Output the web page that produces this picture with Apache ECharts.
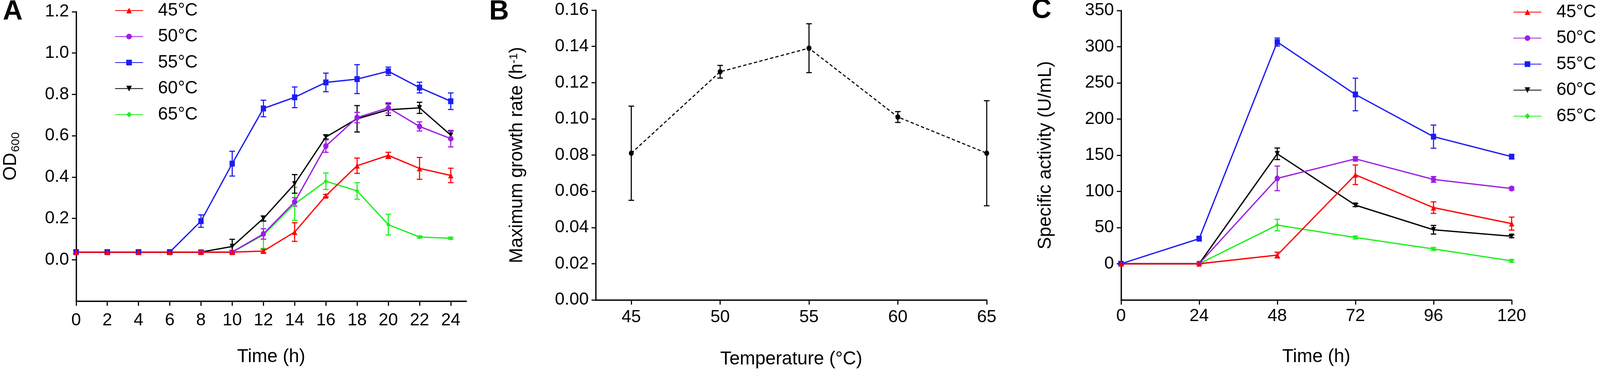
<!DOCTYPE html>
<html>
<head>
<meta charset="utf-8">
<script src="https://cdn.jsdelivr.net/npm/echarts@6/dist/echarts.min.js"></script>
<style>
html, body { margin: 0; padding: 0; background: #fff; overflow: hidden; }
#main { width: 100vw; height: 100vh; }
</style>
</head>
<body>
<div id="main"></div>
<script>
// ---- panel A : OD600 vs time ----
var hoursA = [0, 2, 4, 6, 8, 10, 12, 14, 16, 18, 20, 22, 24];
var od45 = [0.037, 0.037, 0.037, 0.037, 0.037, 0.037, 0.042, 0.134, 0.31, 0.455, 0.505, 0.442, 0.408];
var od45Err = [0.008, 0.008, 0.008, 0.008, 0.008, 0.008, 0.008, 0.045, 0.006, 0.037, 0.015, 0.053, 0.035];
var od50 = [0.037, 0.037, 0.037, 0.037, 0.037, 0.037, 0.125, 0.28, 0.55, 0.688, 0.735, 0.645, 0.586];
var od50Err = [0.008, 0.008, 0.008, 0.008, 0.008, 0.008, 0.025, 0.02, 0.03, 0.025, 0.025, 0.022, 0.04];
var od55 = [0.037, 0.037, 0.037, 0.037, 0.187, 0.465, 0.732, 0.786, 0.858, 0.874, 0.912, 0.833, 0.767];
var od55Err = [0.01, 0.01, 0.01, 0.01, 0.03, 0.06, 0.04, 0.05, 0.045, 0.07, 0.02, 0.026, 0.04];
var od60 = [0.037, 0.037, 0.037, 0.037, 0.037, 0.064, 0.2, 0.367, 0.594, 0.682, 0.726, 0.735, 0.603];
var od60Err = [0.008, 0.008, 0.008, 0.008, 0.008, 0.035, 0.012, 0.045, 0.01, 0.064, 0.028, 0.027, 0.02];
var od65 = [0.037, 0.037, 0.037, 0.037, 0.037, 0.037, 0.12, 0.27, 0.38, 0.333, 0.17, 0.11, 0.104];
var od65Err = [0.008, 0.008, 0.008, 0.008, 0.008, 0.008, 0.065, 0.08, 0.04, 0.04, 0.05, 0.005, 0.005];
var ticksAX = [0, 2, 4, 6, 8, 10, 12, 14, 16, 18, 20, 22, 24];
var ticksAY = [0, 0.2, 0.4, 0.6, 0.8, 1.0, 1.2];

// ---- panel B : max growth rate vs temperature ----
var tempsB = [45, 50, 55, 60, 65];
var rateB = [0.081, 0.126, 0.139, 0.101, 0.081];
var rateErrB = [0.026, 0.0035, 0.0135, 0.003, 0.029];
var ticksBX = [45, 50, 55, 60, 65];

// ---- panel C : specific activity vs time ----
var hoursC = [0, 24, 48, 72, 96, 120];
var act45 = [0, 0, 12, 123, 77.6, 55.5];
var act45Err = [1, 1, 4, 13.5, 8, 9];
var act50 = [0, 0, 118, 145, 116.6, 104];
var act50Err = [1, 1, 17, 3, 4, 2];
var act55 = [0, 34.7, 306.5, 234, 175.7, 148];
var act55Err = [1, 2, 5.5, 22.5, 16, 3];
var act60 = [0, 0, 152, 81, 47, 38];
var act60Err = [1, 1, 8, 2, 6, 2];
var act65 = [0, 0, 53.5, 36.3, 20.5, 4];
var act65Err = [1, 1, 8, 2, 2, 2];
var ticksCY = [0, 50, 100, 150, 200, 250, 300, 350];

var tempNames = ['45°C', '50°C', '55°C', '60°C', '65°C'];
var colors = { '45°C': '#ff0000', '50°C': '#9b1ee3', '55°C': '#1c1cf5', '60°C': '#000000', '65°C': '#1ef01e' };
var symbols = { '45°C': ['triangle', 15, 0], '50°C': ['circle', 15, 0], '55°C': ['rect', 15, 0], '60°C': ['triangle', 14, 180], '65°C': ['diamond', 12, 0] };

var FONT = 'Liberation Sans, Arial, sans-serif';

// layout measured on the 4563 x 959 picture, stretched to fill the real viewport
var SX = (window.innerWidth || 4563) / 4563;
var SY = (window.innerHeight || 959) / 959;
var SF = Math.sqrt(SX * SY);
function hx(v) { return v * SX; }
function vy(v) { return v * SY; }
function fs(v) { return v * SF; }

function pairs(xs, ys) {
    return xs.map(function (x, i) { return [x, ys[i]]; });
}
function errRows(xs, ys, es) {
    var out = [];
    xs.forEach(function (x, i) {
        if (es[i] > 0) out.push([x, ys[i] - es[i], ys[i] + es[i]]);
    });
    return out;
}
function errRender(params, api) {
    var x = api.value(0);
    var top = api.coord([x, api.value(2)]);
    var bot = api.coord([x, api.value(1)]);
    var w = hx(8);
    var st = { stroke: api.visual('color'), lineWidth: fs(3) };
    return {
        type: 'group',
        children: [
            { type: 'line', shape: { x1: top[0], y1: top[1], x2: bot[0], y2: bot[1] }, style: st },
            { type: 'line', shape: { x1: top[0] - w, y1: top[1], x2: top[0] + w, y2: top[1] }, style: st },
            { type: 'line', shape: { x1: bot[0] - w, y1: bot[1], x2: bot[0] + w, y2: bot[1] }, style: st }
        ]
    };
}

function lineSeries(name, xs, ys, idx) {
    var s = symbols[name];
    return {
        name: name, type: 'line', xAxisIndex: idx, yAxisIndex: idx,
        data: pairs(xs, ys),
        symbol: s[0], symbolSize: [hx(s[1]), vy(s[1])], symbolRotate: s[2],
        showAllSymbol: true,
        lineStyle: { color: colors[name], width: fs(3.5) },
        itemStyle: { color: colors[name] },
        emphasis: { disabled: true },
        animation: false, z: 3
    };
}
function errSeries(name, xs, ys, es, idx) {
    return {
        name: name + ' err', type: 'custom', xAxisIndex: idx, yAxisIndex: idx,
        renderItem: errRender,
        itemStyle: { color: colors[name] },
        encode: { x: 0, y: [1, 2] },
        data: errRows(xs, ys, es),
        animation: false, z: 3
    };
}

var axisLine = { show: true, onZero: false, lineStyle: { color: '#000', width: fs(3.5) } };
var tickX = { show: true, length: vy(12), lineStyle: { color: '#000', width: fs(3) } };
var tickY = { show: true, length: hx(12), lineStyle: { color: '#000', width: fs(3) } };
var tickFont = { color: '#000', fontSize: fs(47), fontFamily: FONT };
var nameFont = { color: '#000', fontSize: fs(50), fontFamily: FONT };
var letterFont = { fontSize: fs(74), fontWeight: 'bold', fontFamily: FONT, color: '#000' };

var seriesA = [['65°C', od65, od65Err], ['60°C', od60, od60Err], ['50°C', od50, od50Err], ['55°C', od55, od55Err], ['45°C', od45, od45Err]];
var seriesC = [['65°C', act65, act65Err], ['60°C', act60, act60Err], ['50°C', act50, act50Err], ['55°C', act55, act55Err], ['45°C', act45, act45Err]];

var series = [];
seriesA.forEach(function (s) {
    series.push(errSeries(s[0], hoursA, s[1], s[2], 0));
    series.push(lineSeries(s[0], hoursA, s[1], 0));
});
series.push({
    name: 'rate', type: 'custom', xAxisIndex: 1, yAxisIndex: 1,
    renderItem: errRender, itemStyle: { color: '#000' },
    encode: { x: 0, y: [1, 2] },
    data: errRows(tempsB, rateB, rateErrB), animation: false
});
series.push({
    name: 'Maximum growth rate', type: 'line', xAxisIndex: 1, yAxisIndex: 1,
    data: pairs(tempsB, rateB),
    symbol: 'circle', symbolSize: [hx(14), vy(14)],
    lineStyle: { color: '#000', width: fs(3), type: [fs(9), fs(6)] },
    itemStyle: { color: '#000' },
    animation: false
});
seriesC.forEach(function (s) {
    series.push(errSeries(s[0], hoursC, s[1], s[2], 2));
    series.push(lineSeries(s[0], hoursC, s[1], 2));
});

function legendAt(left, top) {
    return {
        orient: 'vertical', left: hx(left), top: vy(top), padding: 0,
        data: tempNames, itemWidth: hx(80), itemHeight: vy(18), itemGap: vy(16.5),
        selectedMode: false,
        textStyle: { color: '#000', fontSize: fs(48), fontFamily: FONT, lineHeight: vy(50), padding: [0, 0, 0, hx(37)] }
    };
}

var chart = echarts.init(document.getElementById('main'), null, { renderer: 'canvas' });
chart.setOption({
    backgroundColor: '#fff',
    animation: false,
    title: [
        { text: 'A', left: hx(8), top: vy(-4), padding: 0, textStyle: letterFont },
        { text: 'B', left: hx(1395), top: vy(-4), padding: 0, textStyle: letterFont },
        { text: 'C', left: hx(2942), top: vy(-8), padding: 0, textStyle: letterFont }
    ],
    legend: [legendAt(327, 2), legendAt(4315, 6)],
    grid: [
        { left: hx(217), top: vy(30), width: hx(1113), height: vy(740), outerBoundsMode: 'none' },
        { left: hx(1699), top: vy(26), width: hx(1115), height: vy(741), outerBoundsMode: 'none' },
        { left: hx(3197), top: vy(27), width: hx(1114), height: vy(740), outerBoundsMode: 'none' }
    ],
    xAxis: [
        {
            gridIndex: 0, type: 'value', min: 0, max: 25,
            axisLine: axisLine, axisTick: Object.assign({ customValues: ticksAX }, tickX),
            axisLabel: Object.assign({ customValues: ticksAX, margin: vy(27) }, tickFont),
            splitLine: { show: false },
            name: 'Time (h)', nameLocation: 'middle', nameGap: vy(119), nameTextStyle: nameFont
        },
        {
            gridIndex: 1, type: 'value', min: 43, max: 65,
            axisLine: axisLine, axisTick: Object.assign({ customValues: ticksBX }, tickX),
            axisLabel: Object.assign({ customValues: ticksBX, margin: vy(22) }, tickFont),
            splitLine: { show: false },
            name: 'Temperature (°C)', nameLocation: 'middle', nameGap: vy(128), nameTextStyle: nameFont
        },
        {
            gridIndex: 2, type: 'value', min: 0, max: 120, interval: 24,
            axisLine: axisLine, axisTick: tickX,
            axisLabel: Object.assign({ margin: vy(19) }, tickFont),
            splitLine: { show: false },
            name: 'Time (h)', nameLocation: 'middle', nameGap: vy(122), nameTextStyle: nameFont
        }
    ],
    yAxis: [
        {
            gridIndex: 0, type: 'value', min: -0.2, max: 1.2,
            axisLine: axisLine, axisTick: Object.assign({ customValues: ticksAY }, tickY),
            axisLabel: Object.assign({ customValues: ticksAY, margin: hx(20), formatter: function (v) { return v.toFixed(1); } }, tickFont),
            splitLine: { show: false },
            name: 'OD{s|600}', nameLocation: 'middle', nameGap: hx(160),
            nameTextStyle: Object.assign({ rich: { s: { fontSize: fs(32), fontFamily: FONT, color: '#000', verticalAlign: 'bottom', padding: [0, 0, -4, 2] } } }, nameFont)
        },
        {
            gridIndex: 1, type: 'value', min: 0, max: 0.16, interval: 0.02,
            axisLine: axisLine, axisTick: tickY,
            axisLabel: Object.assign({ margin: hx(20), formatter: function (v) { return v.toFixed(2); } }, tickFont),
            splitLine: { show: false },
            name: 'Maximum growth rate (h{sup|-1})', nameLocation: 'middle', nameGap: hx(198),
            nameTextStyle: Object.assign({ rich: { sup: { fontSize: fs(32), fontFamily: FONT, color: '#000', verticalAlign: 'top' } } }, nameFont)
        },
        {
            gridIndex: 2, type: 'value', min: -50, max: 350,
            axisLine: axisLine, axisTick: Object.assign({ customValues: ticksCY }, tickY),
            axisLabel: Object.assign({ customValues: ticksCY, margin: hx(20) }, tickFont),
            splitLine: { show: false },
            name: 'Specific activity (U/mL)', nameLocation: 'middle', nameGap: hx(189), nameTextStyle: nameFont
        }
    ],
    series: series
});
</script>
</body>
</html>
